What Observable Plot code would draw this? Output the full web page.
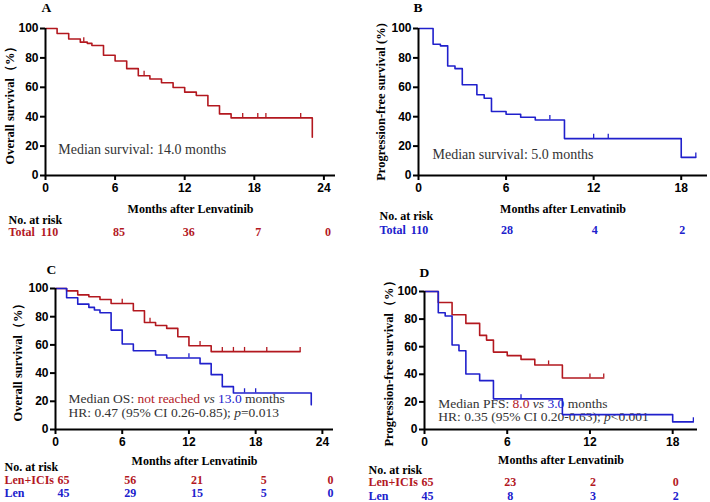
<!DOCTYPE html>
<html><head><meta charset="utf-8">
<script src="https://cdn.jsdelivr.net/npm/d3@7"></script>
<script src="https://cdn.jsdelivr.net/npm/@observablehq/plot@0.6"></script>
<style>
body{margin:0;background:#fff}
#wrap{position:relative;width:710px;height:502px;overflow:hidden;background:#fff}
#wrap > svg{position:absolute;margin:0;overflow:visible;background:transparent}
g[aria-label="x-axis tick label"] text, g[aria-label="y-axis tick label"] text{font-weight:bold}
</style></head><body><div id="wrap"></div>
<script>
const red = "#b3181f", blue = "#2020cc", gray = "#333333";
// ---- Panel A: overall survival, total
const aTime = [0,1,2,3,3.6,4,5,6,7,8,9,10,11,12,13,14,15,16,23];
const aSurv = [100,96.6,92.9,90.7,89.9,88.4,81.8,77.9,72.7,67.9,65.6,63.1,59.9,56.7,54.4,47.4,41.9,39.2,26];
const aCens = [3.3,8.5,17,18.3,19,22];
const aRiskT = [0,6,12,18,24];
const aRisk = [110,85,36,7,0];
// ---- Panel B: PFS, total
const bTime = [0,1,1.5,2,2.5,3,4,4.5,5,6,7,8,10,18,19];
const bSurv = [100,89.3,88.2,74.5,72.7,61.7,54.9,52.6,43.5,41.7,39.6,37.8,25.1,12.3,12.3];
const bCens = [9,12,13,19];
const bRiskT = [0,6,12,18];
const bRisk = [110,28,4,2];
// ---- Panel C: OS by group
const cRedTime = [0,1,2,3,4,5,7,8,9,10,11,12,14,22];
const cRedSurv = [100,98.3,95.5,94.1,92.2,89.4,84.2,75.9,73.8,71.7,65.8,59.4,55.2,55.2];
const cRedCens = [6,8.5,13,15,16,17,19,22];
const cBlueTime = [0,1,2,3,3.5,4,5,6,7,9,10,13,14,15,16,23];
const cBlueSurv = [100,93.4,88.9,86.6,84.7,82.8,70.5,60.6,55.9,52.8,50.7,46.7,38.9,30.4,25.9,17.5];
const cBlueCens = [12,17,18];
const cRiskT = [0,6,12,18,24];
const cRiskRed = [65,56,21,5,0];
const cRiskBlue = [45,29,15,5,0];
// ---- Panel D: PFS by group
const dRedTime = [0,1,2,3,4,4.5,5,6,7,8,10,13];
const dRedSurv = [100,92,83.1,76.9,68.2,64.8,56.1,53.5,50.8,46.7,37.3,37.3];
const dRedCens = [9,12,13];
const dBlueTime = [0,1,1.5,2,2.5,3,4,5,10,18,19.5];
const dBlueSurv = [100,84.6,82.2,61.2,57.1,40.2,35.4,22.2,10.8,5.5,5.5];
const dBlueCens = [7,19.5];
const dRiskT = [0,6,12,18];
const dRiskRed = [65,23,2,0];
const dRiskBlue = [45,8,3,2];

const serif = "Liberation Serif, Times New Roman, serif";
const sans = "Liberation Sans, Arial, sans-serif";

function survAt(times, surv, t){ let s = surv[0]; times.forEach((x,i)=>{ if (x <= t) s = surv[i]; }); return s; }

function panel(c){
  const marks = [];
  (c.notes||[]).forEach(n => marks.push(Plot.text([n], {x: n.x, y: n.y, text: d=>d.text, textAnchor:"start", lineAnchor:"middle", fontFamily: serif, fontSize: n.size, fill: gray})));
  c.series.forEach(s => {
    const pts = s.time.map((t,i)=>({t, s: s.surv[i]}));
    const cens = s.cens.map(t => ({t, s: survAt(s.time, s.surv, t)}));
    marks.push(Plot.line(pts, {x:"t", y:"s", curve:"step-after", stroke: s.color, strokeWidth: 1.6}));
    marks.push(Plot.ruleX(cens, {x:"t", y1:"s", y2: d=>d.s + 3, stroke: s.color, strokeWidth: 1.3}));
  });
  marks.push(
    Plot.ruleY([0], {stroke:"#000", strokeWidth: 2}),
    Plot.ruleX([0], {y1: 0, y2: 100, stroke:"#000", strokeWidth: 2}),
    Plot.axisX({ticks: c.xticks, tickSize: 5, tickPadding: 3, strokeWidth: 2, fontSize: 12, label: null}),
    Plot.axisY({ticks: [0,20,40,60,80,100], tickSize: 5, tickPadding: 2, strokeWidth: 2, fontSize: 12, label: null}),
    Plot.text([c.ylabel], {frameAnchor:"left", rotate:-90, textAnchor:"middle", dx: c.ylabelDx, fontFamily: serif, fontWeight:"bold", fontSize: 12.5}),
    Plot.text(["Months after Lenvatinib"], {frameAnchor:"bottom", dy: c.xlabelDy, lineAnchor:"middle", fontFamily: serif, fontWeight:"bold", fontSize: 12}),
    Plot.text([c.letter], {frameAnchor:"top-left", dx: c.letterDx, dy: c.letterDy, lineAnchor:"middle", fontFamily: serif, fontWeight:"bold", fontSize: 13.5}),
    Plot.text(["No. at risk"], {frameAnchor:"bottom-left", dx: c.rowDx, dy: c.riskHeadDy, textAnchor:"start", lineAnchor:"middle", fontFamily: serif, fontWeight:"bold", fontSize: 12})
  );
  c.rows.forEach(r => {
    marks.push(Plot.text([r.name], {frameAnchor:"bottom-left", dx: c.rowDx, dy: r.dy, textAnchor:"start", lineAnchor:"middle", fontFamily: serif, fontWeight:"bold", fontSize: 12, fill: r.color}));
    const data = r.vals.map((n,i)=>({t: c.riskT[i], n}));
    marks.push(Plot.text(data, {x:"t", text:"n", frameAnchor:"bottom", dx: c.numDx, dy: r.dy, lineAnchor:"middle", fontFamily: serif, fontWeight:"bold", fontSize: 12, fill: r.color}));
  });
  const svg = Plot.plot({
    width: c.w, height: c.h,
    marginLeft: c.mL, marginRight: c.mR, marginTop: c.mT, marginBottom: c.mB,
    x: {domain: c.xdom, axis: null},
    y: {domain: [0,100], axis: null},
    style: {fontFamily: sans, fontSize: "12px", color: "#000", background: "transparent", overflow: "visible"},
    marks
  });
  svg.style.left = c.left + "px";
  svg.style.top = c.top + "px";
  (c.notes||[]).forEach(n => {
    if (!n.parts) return;
    d3.select(svg).selectAll("text").filter(function(){ return this.textContent === n.text; }).each(function(){
      const t = d3.select(this); t.text(null);
      n.parts.forEach(p => t.append("tspan").attr("fill", p.c || gray).attr("font-style", p.i ? "italic" : null).text(p.t));
    });
  });
  return svg;
}

const wrap = document.getElementById("wrap");
wrap.appendChild(panel({
  left:0, top:0, w:355, h:250, mL:45, mR:20, mT:28, mB:75, xdom:[0,25], xticks:[0,6,12,18,24],
  letter:"A", letterDx:-4, letterDy:-21, ylabel:"Overall survival（%）", ylabelDx:-36, xlabelDy:34,
  rowDx:-37, riskHeadDy:45, numDx:4, riskT:aRiskT,
  rows:[{name:"Total", vals:aRisk, color:red, dy:57}],
  series:[{time:aTime, surv:aSurv, cens:aCens, color:red}],
  notes:[{x:1.1, y:17.7, size:14, text:"Median survival: 14.0 months"}]
}));
wrap.appendChild(panel({
  left:355, top:0, w:355, h:250, mL:63, mR:3, mT:28, mB:75, xdom:[0,19.8], xticks:[0,6,12,18],
  letter:"B", letterDx:-5, letterDy:-21, ylabel:"Progression-free survival (%)", ylabelDx:-38, xlabelDy:34,
  rowDx:-39, riskHeadDy:41, numDx:1, riskT:bRiskT,
  rows:[{name:"Total", vals:bRisk, color:blue, dy:55}],
  series:[{time:bTime, surv:bSurv, cens:bCens, color:blue}],
  notes:[{x:0.96, y:14.1, size:14, text:"Median survival: 5.0 months"}]
}));
wrap.appendChild(panel({
  left:0, top:250, w:355, h:252, mL:55, mR:22, mT:38, mB:73, xdom:[0,25], xticks:[0,6,12,18,24],
  letter:"C", letterDx:-9, letterDy:-19, ylabel:"Overall survival（%）", ylabelDx:-38, xlabelDy:32,
  rowDx:-51, riskHeadDy:38, numDx:8, riskT:cRiskT,
  rows:[{name:"Len+ICIs", vals:cRiskRed, color:red, dy:51},{name:"Len", vals:cRiskBlue, color:blue, dy:64}],
  series:[{time:cRedTime, surv:cRedSurv, cens:cRedCens, color:red},{time:cBlueTime, surv:cBlueSurv, cens:cBlueCens, color:blue}],
  notes:[
    {x:1.17, y:22.1, size:13.5, text:"Median OS: not reached vs 13.0 months",
     parts:[{t:"Median OS: "},{t:"not reached", c:red},{t:" vs ", i:true},{t:"13.0", c:blue},{t:" months"}]},
    {x:1.17, y:12.2, size:13.5, text:"HR: 0.47 (95% CI 0.26-0.85); p=0.013",
     parts:[{t:"HR: 0.47 (95% CI 0.26-0.85); "},{t:"p", i:true},{t:"=0.013"}]}
  ]
}));
wrap.appendChild(panel({
  left:355, top:250, w:355, h:252, mL:69, mR:13, mT:41, mB:73, xdom:[0,19.8], xticks:[0,6,12,18],
  letter:"D", letterDx:-5, letterDy:-19, ylabel:"Progression-free survival（%）", ylabelDx:-36, xlabelDy:31,
  rowDx:-56, riskHeadDy:41, numDx:3, riskT:dRiskT,
  rows:[{name:"Len+ICIs", vals:dRiskRed, color:red, dy:53},{name:"Len", vals:dRiskBlue, color:blue, dy:67}],
  series:[{time:dRedTime, surv:dRedSurv, cens:dRedCens, color:red},{time:dBlueTime, surv:dBlueSurv, cens:dBlueCens, color:blue}],
  notes:[
    {x:1.0, y:18.6, size:13.5, text:"Median PFS: 8.0 vs 3.0 months",
     parts:[{t:"Median PFS: "},{t:"8.0", c:red},{t:" vs ", i:true},{t:"3.0", c:blue},{t:" months"}]},
    {x:1.0, y:9.6, size:13.5, text:"HR: 0.35 (95% CI 0.20-0.63); p<0.001",
     parts:[{t:"HR: 0.35 (95% CI 0.20-0.63); "},{t:"p", i:true},{t:"<0.001"}]}
  ]
}));
</script></body></html>
